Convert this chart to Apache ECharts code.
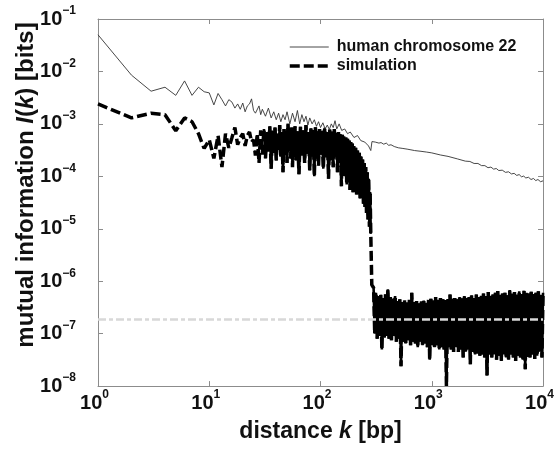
<!DOCTYPE html>
<html>
<head>
<meta charset="utf-8">
<script src="https://cdn.jsdelivr.net/npm/echarts@6/dist/echarts.min.js"></script>
<style>html,body{margin:0;padding:0;background:#fff}#c{width:557px;height:451px}</style>
</head>
<body>
<div id="c"></div>
<script>
const humanK = [1,2,3,4,5,6,7,8,9,10,11,12,13,14,15,16,17,18,19,20,21,22,23,24,25,26,27,28,29,30,32,34,36,38,40,42,44,46,48,50,53,56,59,62,65,68,71,74,77,80,84,88,92,96,100,105,110,115,120,125,130,135,140,147,155,165,175,185,200,215,230,250,270,283,290,300,310,320,335,350,370,390,410,430,460,500,550,600,650,700,800,900,1000,1200,1400,1700,2000,2200,2400,2600,2800,3000,3200,3400,3600,3800,4000,4300,4600,4900,5200,5500,5800,6100,6400,6700,7000,7400,7800,8200,8600,9000,9500,10000];
const humanI = [5.0e-2,8.5e-3,4.2e-3,5.0e-3,3.5e-3,6.6e-3,3.5e-3,5.0e-3,4.1e-3,3.9e-3,2.3e-3,3.8e-3,2.9e-3,2.2e-3,2.9e-3,2.6e-3,2.0e-3,2.4e-3,1.9e-3,2.5e-3,1.7e-3,2.2e-3,2.4e-3,3.0e-3,1.8e-3,1.6e-3,1.7e-3,2.2e-3,1.5e-3,1.9e-3,1.4e-3,2.0e-3,1.3e-3,1.7e-3,1.2e-3,1.6e-3,1.1e-3,1.5e-3,1.2e-3,1.7e-3,1.0e-3,1.6e-3,1.1e-3,1.8e-3,1.0e-3,1.5e-3,1.1e-3,1.4e-3,9.5e-4,1.3e-3,1.0e-3,1.2e-3,9.0e-4,1.1e-3,8.5e-4,1.05e-3,8.0e-4,9.5e-4,7.8e-4,1.0e-3,8.5e-4,1.15e-3,8.0e-4,1.0e-3,7.5e-4,8.0e-4,6.5e-4,7.0e-4,5.5e-4,6.0e-4,4.8e-4,4.5e-4,3.8e-4,3.1e-4,4.6e-4,4.8e-4,4.5e-4,4.6e-4,4.3e-4,4.4e-4,4.1e-4,4.3e-4,3.9e-4,4.0e-4,3.7e-4,3.5e-4,3.4e-4,3.3e-4,3.2e-4,3.1e-4,3.0e-4,2.9e-4,2.8e-4,2.55e-4,2.4e-4,2.15e-4,1.95e-4,1.92e-4,1.76e-4,1.76e-4,1.6e-4,1.6e-4,1.46e-4,1.5e-4,1.37e-4,1.41e-4,1.29e-4,1.31e-4,1.19e-4,1.22e-4,1.11e-4,1.14e-4,1.04e-4,1.08e-4,9.8e-5,1.01e-4,9.3e-5,9.6e-5,8.7e-5,9.1e-5,8.3e-5,8.7e-5,7.9e-5,8.2e-5];

const simK = [1,2,3,4,5,6,7,8,9,10,11,12,13,14,15,16,17,18,19,20,21,22,23,24,25,26,27,28,29,30,
  31,32,33,34,35,36,37,38,39,40,41,42,43,44,45,46,47,48,49,50,51,52,53,54,55,56,57,58,59,60,
  62,64,66,68,70,72,74,76,78,80,82,84,86,88,90,92,94,96,98,100,
  103,106,109,112,115,118,121,124,127,130,133,136,139,142,145,148,151,154,157,160,163,166,169,172,175,178,181,184,187,190,193,196,199,
  203,207,211,215,219,223,227,231,235,239,243,247,251,255,259,263,267,271,275,279,283,289,
  300,307,315,323,331,339,348,356,365,374,384,393,403,413,424,434,445,456,468,480,491,504,516,529,542,556,570,584,599,614,629,645,661,678,695,712,730,748,767,786,806,826,847,868,890,912,935,958,982,1007,
  1032,1058,1084,1111,1139,1168,1197,1227,1258,1289,1321,1354,1388,1423,1459,1495,1533,1571,1610,1651,1692,1734,1778,1822,1868,1915,1962,2011,2062,2113,2166,2220,2276,2333,2391,2451,2512,2575,2640,2706,2773,2843,2914,2987,
  3061,3138,3216,3297,3379,3464,3550,3639,3730,3823,3919,4017,4117,4220,4326,4434,4545,4658,4775,4894,5017,5142,5271,5402,5538,5676,5818,5963,6112,6265,6422,6583,6747,6916,7089,7266,7448,7634,7825,8020,8221,8426,8637,8853,9074,9301,9534,9772,10000];
const simI = [2.4e-3,1.3e-3,1.6e-3,1.5e-3,7.4e-4,1.3e-3,1.1e-3,6.5e-4,3.4e-4,5.0e-4,2.2e-4,6.0e-4,1.5e-4,6.5e-4,3.5e-4,5.5e-4,8.5e-4,4.0e-4,5.5e-4,6.5e-4,3.8e-4,6.0e-4,7.0e-4,4.5e-4,5.0e-4,2.5e-4,6.5e-4,1.8e-4,7.5e-4,2.6e-4,
  8.0e-4,2.2e-4,7.0e-4,3.0e-4,9.0e-4,1.4e-4,7.5e-4,2.8e-4,8.5e-4,2.0e-4,6.5e-4,3.2e-4,9.5e-4,2.4e-4,7.0e-4,1.2e-4,8.0e-4,2.6e-4,7.5e-4,1.8e-4,1.0e-3,3.0e-4,7.0e-4,2.2e-4,8.5e-4,1.5e-4,7.8e-4,2.8e-4,9.0e-4,2.0e-4,
  7.2e-4,1.1e-4,8.8e-4,2.5e-4,7.5e-4,1.8e-4,9.5e-4,2.7e-4,7.0e-4,1.3e-4,8.2e-4,2.4e-4,7.6e-4,1.0e-4,8.6e-4,2.2e-4,7.2e-4,1.6e-4,8.0e-4,2.6e-4,
  7.4e-4,1.4e-4,8.4e-4,2.3e-4,7.0e-4,9e-5,7.8e-4,2.0e-4,7.2e-4,1.5e-4,8.0e-4,2.4e-4,6.8e-4,1.2e-4,7.0e-4,1.8e-4,6.4e-4,6.5e-5,6.2e-4,1.4e-4,5.8e-4,1.0e-4,5.5e-4,7e-5,5.2e-4,9e-5,4.8e-4,5.5e-5,4.5e-4,7e-5,4.2e-4,5e-5,3.8e-4,
  6e-5,3.5e-4,4.5e-5,3.1e-4,5e-5,2.8e-4,3.8e-5,2.4e-4,4e-5,2.1e-4,3e-5,1.8e-4,2.6e-5,1.5e-4,2e-5,1.2e-4,1.5e-5,9e-5,1.1e-5,5e-5,8e-6,8.5e-7,
  7.5e-7,1.0e-7,6.0e-7,8e-8,5.2e-7,9e-8,5.5e-7,5e-8,4.8e-7,8.5e-8,5.6e-7,9e-8,7.0e-7,8e-8,5.0e-7,7.5e-8,4.6e-7,9e-8,5.2e-7,7e-8,4.2e-7,8e-8,4.5e-7,2.4e-8,4.0e-7,7e-8,4.3e-7,6.5e-8,3.9e-7,7.5e-8,4.4e-7,6e-8,6.0e-7,7e-8,4.0e-7,6.5e-8,4.2e-7,5.5e-8,3.8e-7,7e-8,4.1e-7,6e-8,4.3e-7,6.5e-8,3.9e-7,5.5e-8,4.4e-7,3.2e-8,4.6e-7,6e-8,
  4.3e-7,5.5e-8,5.0e-7,6e-8,4.4e-7,5e-8,4.8e-7,5.5e-8,4.5e-7,5e-8,4.4e-7,1.0e-8,4.6e-7,5.5e-8,5.6e-7,5e-8,4.6e-7,4.5e-8,4.8e-7,5.5e-8,4.5e-7,4.5e-8,5.0e-7,5e-8,4.7e-7,3.5e-8,5.2e-7,4.5e-8,4.8e-7,5e-8,5.0e-7,2.6e-8,5.4e-7,4.5e-8,4.8e-7,4e-8,5.6e-7,4.2e-8,5.0e-7,3.8e-8,5.3e-7,4e-8,5.8e-7,3.5e-8,
  5.2e-7,1.6e-8,6.2e-7,4e-8,5.3e-7,3.5e-8,5.6e-7,4e-8,6.0e-7,3.2e-8,6.5e-7,3.8e-8,5.5e-7,3e-8,5.8e-7,4e-8,6.0e-7,3.5e-8,5.4e-7,3.2e-8,6.8e-7,4e-8,5.8e-7,3.5e-8,6.2e-7,3e-8,5.6e-7,3.8e-8,6.4e-7,3.5e-8,5.7e-7,3.2e-8,6.6e-7,2.1e-8,6.0e-7,3.6e-8,5.9e-7,3.5e-8,6.3e-7,4e-8,5.7e-7,3.3e-8,6.0e-7,3.8e-8,6.4e-7,4.5e-8,5.5e-7,3.5e-8,6.0e-7];

const noiseK = [1, 10000];
const noiseI = [1.87e-7, 1.87e-7];

const yTickExps = [-8,-7,-6,-5,-4,-3,-2,-1];
const xTickExps = [0,1,2,3,4];

const FONT = 'Liberation Sans';
function zip(a,b){ return a.map((v,i)=>[v,b[i]]); }
// dense (overplotted) stretches of the simulation trace
const simData = zip(simK, simI);
const iDenseA = simK.indexOf(31), iDenseB = simK.indexOf(283), iDenseC = simK.indexOf(300);
const simDense = simData.slice(iDenseA, iDenseB + 1).concat([[290, '-']], simData.slice(iDenseC));

function expLabel(list){
  return function(v){
    const e = Math.round(Math.log10(v));
    if (list.indexOf(e) < 0) return '';
    return '{b|10}{e|' + (e < 0 ? '\u2212' + (-e) : String(e)) + '}';
  };
}
const richNum = {
  b: {fontSize: 20, fontWeight: 'bold', fontFamily: FONT, color: '#111', lineHeight: 28},
  e: {fontSize: 12, fontWeight: 'bold', fontFamily: FONT, color: '#111', lineHeight: 14, verticalAlign: 'top'}
};
const axisGray = '#8c8c8c';

const chart = echarts.init(document.getElementById('c'), null, {renderer: 'canvas'});
chart.setOption({
  animation: false,
  backgroundColor: '#fff',
  grid: {left: 98, right: 12, top: 19, bottom: 61, containLabel: false},
  legend: {
    data: ['human chromosome 22', 'simulation'],
    orient: 'vertical', left: 283, top: 34,
    itemWidth: 39, itemHeight: 14, itemGap: 3,
    itemStyle: {opacity: 0},
    lineStyle: {width: 'inherit', type: 'inherit'},
    textStyle: {fontSize: 16, fontWeight: 'bold', fontFamily: FONT, color: '#111', lineHeight: 16, padding: [0,0,0,3]}
  },
  xAxis: [{
    type: 'log', logBase: 10, min: 1, max: 10000, splitNumber: 4,
    axisLine: {lineStyle: {color: axisGray, width: 1}},
    axisTick: {inside: true, length: 5, lineStyle: {color: axisGray}},
    splitLine: {show: false}, minorTick: {show: false},
    axisLabel: {formatter: expLabel(xTickExps), margin: 3, rich: richNum, padding: [0,7,0,0]},
    name: 'distance {i|k} [bp]', nameLocation: 'middle', nameGap: 30,
    nameTextStyle: {fontSize: 23, fontWeight: 'bold', fontFamily: FONT, color: '#111', lineHeight: 28,
      rich: {i: {fontSize: 23, fontWeight: 'bold', fontStyle: 'italic', fontFamily: FONT, color: '#111', lineHeight: 28}}}
  }, {
    type: 'log', logBase: 10, min: 1, max: 10000, splitNumber: 4, position: 'top',
    axisLine: {lineStyle: {color: axisGray, width: 1}},
    axisTick: {inside: true, length: 5, lineStyle: {color: axisGray}},
    splitLine: {show: false}, axisLabel: {show: false}
  }],
  yAxis: [{
    type: 'log', logBase: 10, min: 1e-8, max: 1e-1, splitNumber: 7,
    axisLine: {show: true, lineStyle: {color: axisGray, width: 1}},
    axisTick: {show: true, inside: true, length: 5, lineStyle: {color: axisGray}},
    splitLine: {show: false}, minorTick: {show: false},
    axisLabel: {formatter: expLabel(yTickExps), margin: 22, rich: richNum}
  }, {
    type: 'log', logBase: 10, min: 1e-8, max: 1e-1, splitNumber: 7, position: 'right',
    axisLine: {show: true, lineStyle: {color: axisGray, width: 1}},
    axisTick: {show: true, inside: true, length: 5, lineStyle: {color: axisGray}},
    splitLine: {show: false}, axisLabel: {show: false}
  }],
  graphic: [{
    type: 'text', x: 26, y: 185, rotation: Math.PI / 2,
    style: {
      text: 'mutual information {i|I}({i|k}) [bits]',
      font: 'bold 24px "Liberation Sans"', fill: '#111', align: 'center', verticalAlign: 'middle',
      rich: {i: {fontSize: 24, fontWeight: 'bold', fontStyle: 'italic', fontFamily: FONT, fill: '#111'}}
    }
  }],
  series: [{
    name: 'human chromosome 22', type: 'line', data: zip(humanK, humanI),
    showSymbol: false, symbol: 'none', z: 3,
    lineStyle: {color: '#333', width: 0.9, join: 'bevel'}, itemStyle: {color: '#333'}
  }, {
    name: 'simulation', type: 'line', data: simData,
    showSymbol: false, symbol: 'none', z: 2,
    lineStyle: {color: '#000', width: 3.5, type: [10,4], join: 'bevel'}, itemStyle: {color: '#000'}
  }, {
    name: 'simulation (overplotted)', type: 'line', data: simDense, connectNulls: false,
    showSymbol: false, symbol: 'none', z: 2, silent: true,
    lineStyle: {color: '#000', width: 2.6, join: 'bevel'}, itemStyle: {color: '#000'}
  }, {
    name: 'noise', type: 'line', data: zip(noiseK, noiseI),
    showSymbol: false, symbol: 'none', z: 4, silent: true,
    lineStyle: {color: '#d8d8d8', width: 2.5, type: [8,3,4,3]}
  }]
});
</script>
</body>
</html>
